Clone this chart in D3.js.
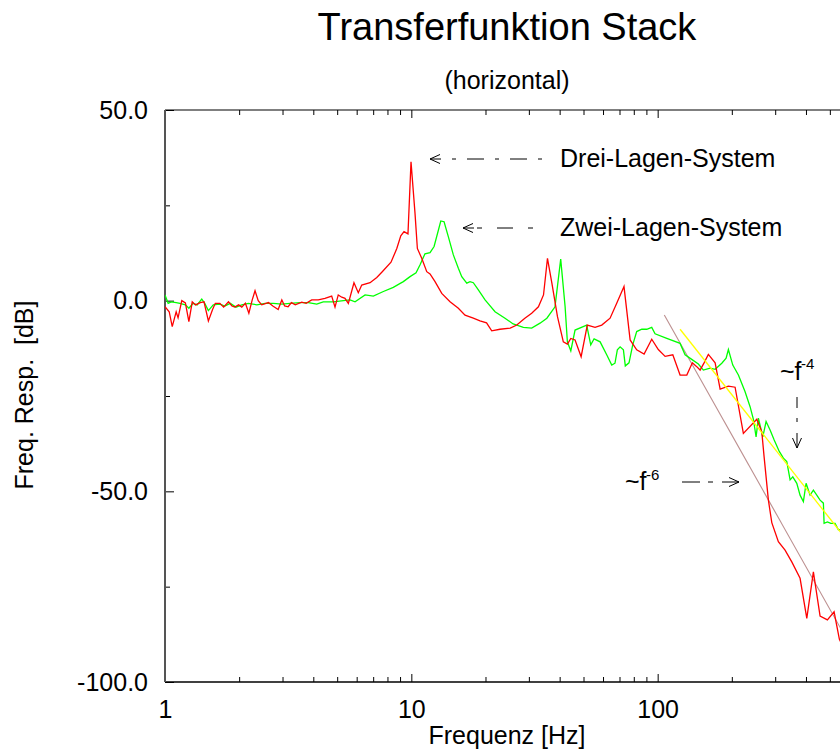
<!DOCTYPE html>
<html>
<head>
<meta charset="utf-8">
<script src="https://cdn.jsdelivr.net/npm/d3@7"></script>
<style>
  body { margin: 0; background: #fff; }
  svg { display: block; }
  text { font-family: "Liberation Sans", Arial, Helvetica, sans-serif; fill: #000; }
</style>
</head>
<body>
<svg id="chart" width="840" height="751"></svg>
<script>
// Frequency response [Hz, dB] of the three-layer stack
const drei = [
  [1.00,-1.6],[1.04,-2.9],[1.07,-6.8],[1.11,-2.9],[1.13,-4.5],[1.17,0.0],[1.21,-0.6],[1.25,-5.5],
  [1.29,-0.3],[1.33,-1.1],[1.39,-0.5],[1.44,-0.3],[1.50,-5.3],[1.56,-2.3],[1.60,-0.7],[1.67,-0.7],
  [1.73,-1.7],[1.81,-0.3],[1.87,-1.4],[1.92,-1.7],[1.99,-1.1],[2.05,-1.7],[2.12,-0.7],[2.19,-3.3],
  [2.26,0.2],[2.32,2.6],[2.39,0.0],[2.47,-1.1],[2.63,-0.5],[2.74,-1.4],[2.88,-2.3],[2.98,0.2],
  [3.06,-1.4],[3.16,-1.6],[3.26,-0.5],[3.38,-1.1],[3.59,-0.4],[3.74,-0.7],[3.94,0.2],[4.19,0.2],
  [4.46,0.6],[4.75,1.2],[4.90,-1.7],[5.05,1.5],[5.22,0.9],[5.38,0.6],[5.55,-0.7],[5.85,4.7],
  [6.09,2.1],[6.29,4.1],[6.80,4.7],[7.24,6.1],[7.62,7.6],[8.27,10.1],[8.45,11.5],[8.73,13.7],
  [9.06,17.0],[9.34,18.1],[9.69,17.5],[9.97,36.4],[10.35,22.9],[10.58,13.7],[11.02,11.1],[11.55,7.6],
  [11.91,7.0],[12.48,5.0],[13.29,1.9],[14.36,-0.3],[15.52,-2.0],[16.52,-3.8],[17.85,-4.6],[19.0,-5.3],
  [20.2,-5.8],[21.2,-7.9],[22.9,-7.5],[25.2,-7.2],[26.8,-6.4],[28.9,-4.6],[30.8,-3.3],[32.8,-1.6],
  [34.4,1.5],[35.7,11.1],[37.2,4.6],[39.2,-4.2],[41.4,-10.8],[43.0,-11.4],[44.4,-9.9],[46.2,-10.3],
  [48.9,-14.7],[51.8,-6.4],[55.7,-7.0],[59.3,-6.4],[64.1,-4.6],[68.2,-0.7],[73.0,3.7],[77.3,-10.3],
  [82.2,-12.9],[88.1,-14.0],[94.6,-10.1],[100.6,-12.8],[107.2,-14.6],[115.2,-14.2],[123.3,-19.5],[131.3,-19.5],
  [138.3,-16.3],[144.1,-17.3],[148.7,-18.2],[154.3,-16.3],[160.6,-14.1],[171.1,-16.3],[179.3,-23.2],[193.7,-22.4],
  [206.2,-22.7],[222.8,-34.8],[252.6,-31.1],[264.7,-34.4],[270.4,-40.9],[281.5,-52.3],[290.6,-58.2],[309.0,-63.2],
  [329.0,-65.4],[350.3,-68.5],[378.5,-72.8],[403.1,-83.3],[428.7,-71.1],[456.4,-82.7],[488.7,-83.7],[520.2,-81.6],
  [546.7,-88.8],[577.0,-92.0]
];

// Frequency response [Hz, dB] of the two-layer stack
const zwei = [
  [1.00,1.5],[1.03,-0.7],[1.06,-0.3],[1.11,-0.5],[1.15,-0.7],[1.21,-1.1],[1.25,-2.0],[1.30,-0.7],
  [1.35,-1.1],[1.41,0.4],[1.45,-0.7],[1.50,-2.6],[1.57,-1.1],[1.67,-0.9],[1.75,-1.4],[1.84,-0.7],
  [1.94,-1.7],[2.05,-1.1],[2.18,-0.7],[2.36,-1.1],[2.55,-0.7],[2.75,-0.7],[2.98,-0.9],[3.22,-0.7],
  [3.53,-0.5],[3.82,-0.5],[4.13,-0.9],[4.39,-0.3],[4.82,-0.3],[5.30,0.0],[5.64,0.2],[5.91,-0.3],
  [6.49,1.5],[7.01,1.2],[7.70,2.4],[8.45,3.5],[8.94,4.4],[9.28,5.0],[9.88,6.3],[10.45,7.3],
  [10.85,9.4],[11.36,12.3],[11.91,12.6],[12.37,14.2],[13.17,20.9],[13.58,20.7],[14.13,16.8],[14.81,12.0],
  [15.52,8.5],[16.02,6.3],[16.79,4.6],[17.31,5.0],[17.85,4.7],[18.71,2.8],[19.92,0.2],[21.87,-2.9],
  [24.0,-4.6],[25.9,-6.1],[28.5,-7.0],[30.8,-7.2],[33.3,-5.9],[35.5,-4.6],[38.3,-1.6],[40.4,10.9],
  [42.1,-1.6],[43.0,-10.8],[44.4,-13.2],[46.2,-7.7],[51.5,-6.4],[53.5,-11.6],[55.2,-10.0],[58.4,-10.8],
  [62.1,-14.2],[65.1,-16.9],[67.1,-16.4],[68.6,-12.9],[70.4,-12.1],[72.6,-12.9],[73.9,-17.1],[76.5,-16.3],
  [79.2,-11.6],[82.2,-8.1],[86.2,-7.5],[90.3,-7.5],[94.6,-7.0],[97.6,-8.7],[108.9,-9.9],[123.3,-11.2],
  [129.2,-14.2],[137.5,-15.4],[146.3,-16.6],[153.3,-18.2],[163.2,-17.7],[171.1,-18.0],[182.1,-16.4],[189.6,-15.1],
  [193.7,-12.8],[201.8,-16.9],[212.7,-19.5],[226.4,-23.9],[237.2,-27.8],[244.7,-31.1],[250.9,-35.7],[256.4,-30.8],
  [267.2,-35.7],[275.5,-31.7],[286.0,-33.9],[296.9,-36.5],[312.0,-39.6],[323.9,-41.3],[334.3,-42.2],[344.8,-47.0],
  [353.6,-46.2],[367.1,-47.9],[378.5,-51.0],[390.4,-52.7],[400.4,-47.9],[415.6,-51.0],[428.7,-49.7],[442.5,-51.0],
  [456.4,-52.3],[470.7,-53.1],[473.8,-58.4],[488.7,-58.0],[504.4,-58.4],[525.0,-58.4],[541.5,-60.1],[577.0,-59.6]
];

// Power-law slopes drawn as straight lines on the log axis
const slopeF6 = [[106.4,-3.75],[600,-90.0]];
const slopeF4 = [[123.3,-7.5],[600,-63.6]];

// Axis ticks
const xMajorTicks = [1, 10, 100, 1000];
const xTickLabels = ["1", "10", "100", ""];
const xMinorTicks = [2,3,4,5,6,7,8,9,20,30,40,50,60,70,80,90,200,300,400,500,600,700,800,900];
const yMajorTicks = [-100, -50, 0, 50];
const yTickLabels = ["-100.0", "-50.0", "0.0", "50.0"];
const yMinorTicks = [-75, -25, 25];

const svg = d3.select("#chart");
const plot = { left: 165, right: 904, top: 110, bottom: 682 };

const x = d3.scaleLog().domain([1, 1000]).range([plot.left, plot.right]);
const y = d3.scaleLinear().domain([-100, 50]).range([plot.bottom, plot.top]);

svg.append("defs").append("clipPath").attr("id", "plot-clip")
  .append("rect")
  .attr("x", plot.left).attr("y", plot.top)
  .attr("width", plot.right - plot.left).attr("height", plot.bottom - plot.top);

// Titles
svg.append("text").attr("x", 507).attr("y", 40).attr("text-anchor", "middle")
  .style("font-size", "38px").text("Transferfunktion Stack");
svg.append("text").attr("x", 507).attr("y", 89).attr("text-anchor", "middle")
  .style("font-size", "25px").text("(horizontal)");

// Axes (ticks point into the plot)
function styleAxis(g) {
  g.select(".domain").remove();
  g.selectAll(".tick line").attr("stroke", "#000").attr("stroke-width", 1);
  g.selectAll(".tick text").style("font-size", "25px")
    .style("font-family", "'Liberation Sans', Arial, sans-serif");
}

svg.append("g").attr("transform", `translate(0,${plot.bottom})`)
  .call(d3.axisBottom(x).tickValues(xMajorTicks).tickSize(-8).tickPadding(18)
    .tickFormat((d, i) => xTickLabels[i]))
  .call(styleAxis);
svg.append("g").attr("transform", `translate(0,${plot.bottom})`)
  .call(d3.axisBottom(x).tickValues(xMinorTicks).tickSize(-5).tickFormat(""))
  .call(styleAxis);
svg.append("g").attr("transform", `translate(0,${plot.top})`)
  .call(d3.axisTop(x).tickValues(xMajorTicks).tickSize(-8).tickFormat(""))
  .call(styleAxis);
svg.append("g").attr("transform", `translate(0,${plot.top})`)
  .call(d3.axisTop(x).tickValues(xMinorTicks).tickSize(-5).tickFormat(""))
  .call(styleAxis);
svg.append("g").attr("transform", `translate(${plot.left},0)`)
  .call(d3.axisLeft(y).tickValues(yMajorTicks).tickSize(-9).tickPadding(17)
    .tickFormat((d, i) => yTickLabels[i]))
  .call(styleAxis);
svg.append("g").attr("transform", `translate(${plot.left},0)`)
  .call(d3.axisLeft(y).tickValues(yMinorTicks).tickSize(-5).tickFormat(""))
  .call(styleAxis);

// Frame
svg.append("line").attr("x1", plot.left).attr("x2", plot.right)
  .attr("y1", plot.top).attr("y2", plot.top).attr("stroke", "#000").attr("stroke-width", 1.2);
svg.append("line").attr("x1", plot.left).attr("x2", plot.right)
  .attr("y1", plot.bottom).attr("y2", plot.bottom).attr("stroke", "#000").attr("stroke-width", 1.3);
svg.append("line").attr("x1", plot.left).attr("x2", plot.left)
  .attr("y1", plot.top).attr("y2", plot.bottom).attr("stroke", "#555").attr("stroke-width", 2);
svg.append("line").attr("x1", plot.right).attr("x2", plot.right)
  .attr("y1", plot.top).attr("y2", plot.bottom).attr("stroke", "#000").attr("stroke-width", 1.2);

// Axis titles
svg.append("text").attr("x", 507).attr("y", 744).attr("text-anchor", "middle")
  .style("font-size", "25px").text("Frequenz [Hz]");
svg.append("text").attr("transform", "translate(33,395) rotate(-90)").attr("text-anchor", "middle")
  .style("font-size", "25px").style("white-space", "pre").text("Freq. Resp.  [dB]");

// Curves
const line = d3.line().x(d => x(d[0])).y(d => y(d[1]));
const curves = svg.append("g").attr("clip-path", "url(#plot-clip)");

curves.append("path").datum(slopeF6).attr("d", line)
  .attr("fill", "none").attr("stroke", "#bc8f8f").attr("stroke-width", 1.1);
curves.append("path").datum(zwei).attr("d", line)
  .attr("fill", "none").attr("stroke", "#00ff00").attr("stroke-width", 1.3);
curves.append("path").datum(drei).attr("d", line)
  .attr("fill", "none").attr("stroke", "#ff0000").attr("stroke-width", 1.3);
curves.append("path").datum(slopeF4).attr("d", line)
  .attr("fill", "none").attr("stroke", "#ffff00").attr("stroke-width", 1.3);

// Annotations: dash-dot leader lines with open arrowheads
const ann = svg.append("g").attr("fill", "none").attr("stroke", "#000").attr("stroke-width", 1);

function arrowHead(tx, ty, dir) {
  // dir: "left", "right", "down"
  let p;
  if (dir === "left") p = `M${tx + 10},${ty - 4.5}L${tx},${ty}L${tx + 10},${ty + 4.5}M${tx},${ty}L${tx + 11},${ty}`;
  else if (dir === "right") p = `M${tx - 10},${ty - 4.5}L${tx},${ty}L${tx - 10},${ty + 4.5}`;
  else p = `M${tx - 4.5},${ty - 10}L${tx},${ty}L${tx + 4.5},${ty - 10}`;
  ann.append("path").attr("d", p);
}

ann.append("line").attr("x1", 542).attr("y1", 159).attr("x2", 441).attr("y2", 159)
  .attr("stroke-dasharray", "4,11,17,11");
arrowHead(430, 159, "left");

ann.append("line").attr("x1", 533).attr("y1", 228).attr("x2", 474).attr("y2", 228)
  .attr("stroke-dasharray", "5,15,16,15");
arrowHead(463, 228, "left");

ann.append("line").attr("x1", 797).attr("y1", 397).attr("x2", 797).attr("y2", 448)
  .attr("stroke-dasharray", "11,10,4,11,15");
arrowHead(797, 448, "down");

ann.append("line").attr("x1", 682).attr("y1", 482).attr("x2", 739).attr("y2", 482)
  .attr("stroke-dasharray", "18,8,5,9,17");
arrowHead(739, 482, "right");

svg.append("text").attr("x", 560).attr("y", 167).style("font-size", "25px").text("Drei-Lagen-System");
svg.append("text").attr("x", 560).attr("y", 236).style("font-size", "25px").text("Zwei-Lagen-System");

svg.append("text").attr("x", 780).attr("y", 380).style("font-size", "25px").text("~f");
svg.append("text").attr("x", 801).attr("y", 369).style("font-size", "15px").text("-4");
svg.append("text").attr("x", 625).attr("y", 490).style("font-size", "25px").text("~f");
svg.append("text").attr("x", 646).attr("y", 480).style("font-size", "15px").text("-6");
</script>
</body>
</html>
